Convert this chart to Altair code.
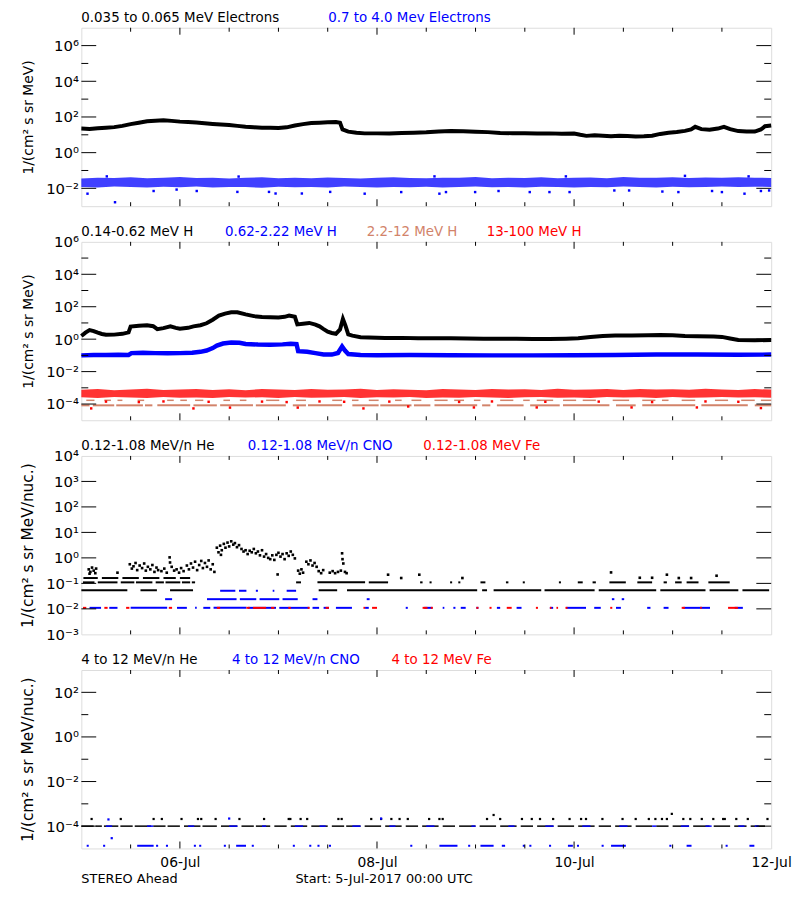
import altair as alt
import pandas as pd

FONT = "DejaVu Sans"
W, H = 696, 180          # plot area of each panel
BLACK, BLUE, RED, SALMON = "#000000", "#0000ff", "#ff0000", "#d2836a"

# time in hours after 5-Jul-2017 00:00 UTC ; values are log10(flux)
# ---------------- Panel 1 : electrons ----------------
E_LOW = [(0,1.35),(2,1.33),(4,1.37),(6,1.40),(8,1.43),(10,1.50),(12,1.60),(14,1.68),(16,1.76),(18,1.79),
         (20,1.81),(22,1.78),(24,1.74),(26,1.72),(28,1.69),(30,1.65),(32,1.61),(34,1.58),(36,1.55),(38,1.50),
         (40,1.45),(42,1.42),(44,1.40),(46,1.39),(48,1.38),(50,1.42),(52,1.52),(54,1.60),(56,1.66),(58,1.68),
         (60,1.70),(62,1.72),(63,1.68),(63.6,1.30),(65,1.18),(67,1.12),(69,1.08),(72,1.08),(75,1.07),(78,1.10),
         (81,1.12),(84,1.14),(87,1.18),(90,1.21),(93,1.20),(96,1.17),(99,1.15),(102,1.10),(105,1.09),(108,1.09),
         (111,1.07),(114,1.08),(117,1.06),(120,1.07),(121.5,1.00),(123,0.94),(125,0.97),(127,0.95),(129,0.92),
         (131,0.95),(133,0.93),(135,0.91),(137,0.92),(139,0.95),(141,1.05),(143,1.12),(145,1.16),(147,1.22),
         (148.5,1.30),(149.5,1.45),(151,1.32),(153,1.28),(155,1.35),(156.5,1.45),(158,1.32),(160,1.21),
         (162,1.18),(164,1.18),(165.5,1.30),(166.5,1.48),(168,1.52)]
BAND_T = [0,4,8,12,16,20,24,28,32,36,40,44,48,52,56,60,64,68,72,76,80,84,88,92,96,100,104,108,112,116,
          120,124,128,132,136,140,144,148,152,156,160,164,168]
E_HIGH_TOP = [-1.45,-1.40,-1.42,-1.38,-1.44,-1.40,-1.36,-1.42,-1.40,-1.45,-1.41,-1.38,-1.43,-1.40,-1.44,
              -1.39,-1.42,-1.45,-1.40,-1.38,-1.42,-1.44,-1.40,-1.41,-1.37,-1.43,-1.40,-1.42,-1.38,-1.44,
              -1.40,-1.39,-1.43,-1.37,-1.41,-1.40,-1.38,-1.42,-1.39,-1.41,-1.38,-1.40,-1.42]
E_HIGH_BOT = [-1.92,-1.95,-1.90,-1.93,-1.96,-1.91,-1.94,-1.90,-1.95,-1.92,-1.93,-1.97,-1.91,-1.94,-1.92,
              -1.95,-1.90,-1.93,-1.96,-1.92,-1.94,-1.91,-1.95,-1.93,-1.90,-1.94,-1.92,-1.96,-1.91,-1.93,
              -1.95,-1.92,-1.94,-1.90,-1.93,-1.95,-1.91,-1.94,-1.92,-1.90,-1.93,-1.91,-1.92]
E_HIGH_OUT = [(1.5,-2.30),(6.2,-1.33),(8.2,-2.78),(17.6,-2.15),(23.2,-2.07),(28.1,-2.15),(38.0,-2.20),
              (38.3,-1.34),(45.7,-2.20),(47.3,-2.29),(53.7,-2.29),(60.6,-2.20),(69.0,-2.30),(77.9,-2.21),
              (86.0,-1.33),(87.2,-2.30),(88.8,-2.21),(95.9,-2.21),(101.6,-2.15),(109.2,-2.21),(114.0,-2.21),
              (118.0,-1.33),(118.9,-2.21),(129.8,-2.12),(133.4,-2.12),(141.5,-2.18),(145.4,-2.21),
              (147.0,-1.30),(153.6,-2.15),(156.0,-2.21),(161.5,-2.30),(162.5,-1.33),(165.5,-2.15),(167.5,-2.12)]

# ---------------- Panel 2 : protons ----------------
H_LOW = [(0,0.19),(1,0.40),(2,0.56),(3,0.50),(4,0.40),(5,0.32),(6,0.27),(8,0.28),(10,0.33),(11.5,0.42),
         (12,0.78),(14,0.83),(16,0.86),(17.5,0.80),(18.5,0.62),(20,0.68),(21.7,0.79),(23,0.70),(24,0.64),
         (26,0.70),(27.3,0.79),(29,0.86),(30.5,0.98),(32,1.20),(33.5,1.45),(35,1.58),(36.5,1.66),(38,1.66),
         (40,1.53),(42,1.42),(44,1.37),(46,1.35),(48,1.34),(49.5,1.38),(50.6,1.46),(52,1.38),(52.6,0.91),
         (54,0.95),(55.5,1.00),(57,0.90),(58,0.79),(59,0.62),(60,0.46),(61,0.38),(62,0.33),(63,0.60),
         (63.7,1.25),(64.3,0.85),(65,0.30),(66,0.22),(68,0.12),(70,0.10),(74,0.07),(78,0.08),(82,0.06),
         (86,0.05),(90,0.05),(94,0.04),(98,0.03),(102,0.02),(106,0.02),(110,0.01),(114,0.01),(118,0.03),
         (121,0.06),(124,0.13),(127,0.20),(130,0.23),(134,0.22),(138,0.24),(141,0.26),(144,0.24),
         (147,0.20),(150,0.18),(154,0.17),(156,0.14),(158,0.04),(160,-0.05),(164,-0.07),(168,-0.05)]
H_MID = [(0,-1.00),(3,-0.97),(6,-0.98),(9,-0.96),(11.5,-0.97),(12.2,-0.86),(15,-0.84),(18,-0.86),(21,-0.87),
         (24,-0.86),(27,-0.84),(29,-0.78),(30.5,-0.70),(32,-0.55),(33,-0.40),(34.5,-0.27),(36.5,-0.21),
         (38.5,-0.22),(40,-0.30),(43,-0.33),(46,-0.34),(49,-0.32),(51,-0.28),(52.4,-0.30),(52.8,-0.74),
         (55,-0.78),(57,-0.86),(59,-0.94),(61,-0.95),(62.5,-0.85),(63.5,-0.45),(64.2,-0.70),(65,-0.92),
         (68,-0.97),(72,-0.99),(80,-0.98),(90,-0.99),(100,-1.00),(110,-1.00),(120,-0.99),(130,-0.97),
         (140,-0.94),(150,-0.94),(160,-0.96),(168,-0.95)]
H_HIGH_TOP = [-3.12,-3.08,-3.15,-3.10,-3.06,-3.14,-3.10,-3.08,-3.13,-3.09,-3.15,-3.07,-3.11,-3.14,-3.08,
              -3.12,-3.10,-3.06,-3.13,-3.09,-3.12,-3.15,-3.08,-3.10,-3.13,-3.07,-3.11,-3.09,-3.14,-3.06,
              -3.12,-3.10,-3.08,-3.13,-3.07,-3.11,-3.09,-3.12,-3.06,-3.10,-3.13,-3.08,-3.11]
H_HIGH_BOT = [-3.58,-3.62,-3.56,-3.60,-3.63,-3.57,-3.61,-3.59,-3.62,-3.56,-3.60,-3.58,-3.63,-3.57,-3.61,
              -3.59,-3.56,-3.62,-3.58,-3.60,-3.57,-3.63,-3.59,-3.61,-3.56,-3.60,-3.62,-3.58,-3.57,-3.61,
              -3.59,-3.63,-3.56,-3.60,-3.58,-3.62,-3.57,-3.61,-3.59,-3.56,-3.60,-3.58,-3.61]
H_HIGH_OUT = [(2.4,-4.27),(27.3,-4.27),(36.2,-4.22),(52.7,-4.22),(68.7,-4.27),(79.6,-4.15),(95.6,-4.21),
              (110.9,-4.21),(134.0,-4.21),(149.9,-4.21),(165.5,-4.25),(6,-3.85),(14,-3.88),(20,-3.84),
              (31,-3.86),(44,-3.85),(50,-3.88),(58,-3.84),(64,-3.86),(75,-3.85),(92,-3.87),(100,-3.84),
              (113,-3.86),(126,-3.85),(139,-3.88),(152,-3.84),(160,-3.86)]
H_MED_LEVELS = [-4.08, -3.77]
H_MED_A = [(0,2),(2.8,8),(8.5,15),(15.5,17.3),(18.5,26.5),(27.3,33),(33.8,41.8),(42.5,49.8),(51.5,54.7),
           (55.2,63.5),(66,72.4),(72.8,80.4),(81,85),(86,96.4),(97.6,99.6),(101.2,107.7),(109.3,116.5),
           (117.3,128.6),(130.2,135),(136.6,149.5),(151,162.3),(164,168)]
H_MED_B = [(1.2,3.2),(5.6,7.2),(8.8,10),(13.7,15.3),(20.9,22.5),(24.1,25.7),(27.7,29.7),(34.6,36.2),
           (38.6,40.2),(45,48.2),(52.3,54.7),(61.1,63.5),(65.9,67.5),(70,72.4),(76.4,78),(80.4,82.8),
           (86,89.2),(90.8,93.2),(95.6,97.2),(102,105.2),(107.6,109.2),(110.9,114.9),(117.3,120.5),
           (122.1,125.3),(129.4,133.4),(136.6,139.8),(141.4,143),(146.2,149.5),(154.3,157.5),(160.7,164),
           (165.5,168)]

# ---------------- Panel 3 : 0.12-1.08 MeV/n heavy ions ----------------
HE_PTS = [(1.8,-0.45),(2.2,-0.55),(2.6,-0.38),(3.0,-0.50),(3.4,-0.60),(2.0,-0.62),(3.6,-0.42),(8.8,-0.58),
          (11.8,-0.25),(12.3,-0.42),(12.7,-0.33),(13.2,-0.20),(13.6,-0.48),(14.2,-0.30),(14.8,-0.40),
          (15.3,-0.22),(15.7,-0.50),(16.2,-0.35),(16.8,-0.45),(17.3,-0.28),(17.8,-0.55),(18.3,-0.38),
          (18.7,-0.48),(19.5,-0.52),(20.2,-0.42),(20.8,-0.58),(21.5,0.02),(21.6,-0.18),(22.0,-0.35),
          (22.6,-0.50),(23.2,-0.45),(23.8,-0.58),(24.3,-0.40),(24.9,-0.52),(25.7,-0.30),(26.2,-0.45),
          (26.7,-0.22),(27.2,-0.38),(27.7,-0.15),(28.2,-0.48),(28.7,-0.28),(29.2,-0.12),(29.6,-0.40),
          (30.1,-0.20),(30.6,-0.35),(31.0,-0.10),(31.5,-0.45),(32.0,-0.25),(32.4,-0.55),(33.0,0.40),
          (33.4,0.22),(33.8,0.48),(34.2,0.30),(34.7,0.55),(35.1,0.40),(35.6,0.60),(36.0,0.45),(36.5,0.65),
          (37.0,0.52),(37.4,0.58),(37.9,0.42),(38.4,0.50),(34.0,0.12),(39.0,0.35),(39.5,0.25),(40.0,0.30),
          (40.5,0.15),(41.0,0.28),(41.5,0.22),(42.0,0.35),(42.5,0.18),(43.0,0.25),(43.5,0.10),(44.0,0.30),
          (44.5,0.05),(45.0,0.15),(45.5,0.00),(46.0,-0.05),(46.5,0.10),(47.0,-0.08),(47.5,0.12),(48.0,0.20),
          (48.5,0.05),(49.0,0.15),(49.5,-0.05),(50.0,0.18),(50.5,0.08),(51.0,0.25),(51.5,0.12),(52.0,-0.02),
          (47.8,-0.65),(52.8,-0.50),(53.2,-0.62),(53.6,-0.45),(54.0,-0.58),(54.8,-0.15),(55.3,-0.25),
          (55.8,-0.10),(56.3,-0.30),(56.8,-0.20),(57.3,-0.35),(57.8,-0.52),(58.4,-0.60),(58.9,-0.48),
          (60.5,-0.58),(61.2,-0.52),(61.8,-0.60),(62.5,-0.55),(63.2,-0.50),(63.5,0.18),(63.6,-0.05),
          (63.8,-0.22),(64.2,-0.55),(64.6,-0.60),(74.7,-0.66),(77.9,-0.79),(82.3,-0.66),(92.8,-0.79),
          (129.0,-0.57),(136.0,-0.78),(139.0,-0.78),(142.6,-0.66),(145.5,-0.79),(148.5,-0.79),(154.7,-0.70)]
HE_LEVELS = [-0.79, -0.96, -1.27]
HE_ROW_A = [(0.5,4),(5,9),(10,14),(15,19),(20,23),(24,26.5)]
HE_ROW_B = [(0.4,3.2),(4,8.8),(9.6,12.9),(13.3,17.3),(18.1,20.1),(20.5,24.1),(24.5,26.5),(26.9,27.7),
            (52.3,53.5),(57.5,69.1),(70,74.7),(82.5,83.1),(84.8,85.3),(89.8,90.3),(91.8,92.3),(97.2,98.4),
            (103.4,104),(107.5,108),(116.3,116.8),(120.9,122.1),(124.5,125.3),(128.6,132.6),(135.4,139),
            (141.8,142.6),(144.6,146.2),(147.4,150.3),(152.7,157.9)]
HE_ROW_C = [(0,11.2),(14.4,18.4),(21.6,27.2),(57.8,62.3),(64.7,96.4),(97.6,98.8),(100.4,112),(112.8,125),
            (126,140),(141,152),(153,160),(161,167.5)]
CNO_LEVELS = [-1.29, -1.62, -1.96]
CNO_ROW_A = [(33.8,37.5),(38.4,40.2),(42.5,43),(46.6,47),(50,52.3)]
CNO_ROW_B = [(20.4,22.1),(30.6,37.8),(38.6,42.6),(43.4,48.2),(49,52.7),(56.3,57.5),(69.5,70.2),
             (129.2,129.8),(131.6,132.2)]
CNO_ROW_C = [(2,4.8),(6.8,8.8),(12,20.9),(23.3,25.7),(27.7,28.1),(29.7,31.4),(32.2,40.2),(40.6,47.4),
             (48.2,55.5),(56.3,57.9),(59,60.3),(62,65.9),(69.1,70),(79,79.5),(83.5,85.5),(88,88.4),
             (90.6,91.1),(92.4,93.6),(96.2,96.7),(101.2,102),(106,107.2),(114.1,114.9),(118.1,122.9),
             (124.9,126.5),(130.2,131.4),(137.8,138.6),(141.8,143),(146.6,153.1),(159.1,161.1)]
FE_ROW = [(0.4,1.2),(5.6,6.4),(10.9,11.7),(21.3,22.1),(33,33.8),(40.2,41),(41.8,45),(46.2,47),(50.4,51),
          (55.1,55.6),(59.5,60.3),(68.7,69.1),(70.8,72),(83.1,84.3),(85.1,85.6),(96.2,96.7),(99.4,99.9),
          (103.6,104.8),(110.7,111.2),(114.1,114.5),(115.7,116.1),(117.9,118.4),(128.8,129.3),(146.2,147),
          (150.7,151.1),(157.5,159.9)]

# ---------------- Panel 4 : 4-12 MeV/n heavy ions ----------------
HE4_LEVEL, HE4_PT_LEVEL = -4.0, -3.68
HE4_ROW = [(0,3),(3.5,5),(5.5,9),(9.5,12.5),(13,17),(17.5,20.5),(21,24),(25,29),(29.5,33),(34,38),(39,42),
           (42.5,46),(47,50),(51,55),(56,60),(61,64),(64.5,68),(69,73),(74,78),(79,82),(83,87),(88,91),(92,96),
           (97,101),(102,106),(107,110),(111,115),(116,120),(121,125),(126,129),(130,134),(135,139),
           (140,143),(144,148),(149,153),(154,158),(159,162),(163,166.5)]
HE4_PTS_T = [2.5,9.6,17.6,19.6,24.4,28.4,29.2,32.7,38.5,44.5,50.5,50.9,53.4,55.0,62.6,63.4,70.6,73.0,75.5,
             77.5,79.5,84.7,87.2,88.0,98.8,102.0,107.3,109.7,111.7,114.9,118.9,121.7,122.9,126.9,131.8,
             135.0,138.2,139.8,141.4,142.6,146.6,148.3,151.1,153.9,156.3,156.7,159.5,162.3,167.1]
HE4_PTS_HI = [(100.4,-3.50),(143.8,-3.45)]
CNO4_ROW = [(6,7.5),(16,17.5),(26,27.5),(36,38),(44,45),(52,54),(58,59.5),(66,68),(75,76.5),(84,86),(95,96),
            (104,105.5),(113,115),(122,124),(131,133),(139,140),(146,148),(152,153.5),(160,161.5),(164,165)]
CNO4_LOW_LEVEL = -4.88
CNO4_LOW = [(1.3,1.8),(5.3,5.8),(13.6,17.6),(18.2,18.7),(20.6,21.1),(27.4,27.9),(28.7,29.2),(34.7,35.2),
            (37.7,40.1),(41.5,42),(51.5,52),(55.5,56),(57.5,58),(60.3,60.8),(80.1,80.6),(87.2,91.6),
            (94.2,94.7),(97.2,100.4),(102.4,103.2),(107.5,108),(109.1,109.6),(113.9,114.4),(118.5,119.7),
            (120.7,121.2),(126.7,127.2),(129,132.6),(143.2,143.7),(147.4,148.6),(156.9,157.4),(162.7,163.9)]
CNO4_PTS = [(6.6,-3.70),(7.4,-4.54),(36.0,-3.66),(73.0,-3.66)]

assert len(BAND_T) == len(E_HIGH_TOP) == len(E_HIGH_BOT) == len(H_HIGH_TOP) == len(H_HIGH_BOT)

# ------------------------------------------------------------------------
XS = alt.Scale(domain=[0, 168], nice=False, zero=False)
SUP = {"-": "\u207b", "0": "\u2070", "1": "\u00b9", "2": "\u00b2", "3": "\u00b3",
       "4": "\u2074", "5": "\u2075", "6": "\u2076", "7": "\u2077"}


def label_expr(exps):
    parts = []
    for e in exps:
        s = "10" + "".join(SUP[c] for c in str(e))
        parts.append(f"round(log(datum.value)/LN10)=={e} ? '{s}'")
    return " : ".join(parts) + " : ''"


def pts_df(pairs):
    return pd.DataFrame({"t": [p[0] for p in pairs], "f": [10.0 ** p[1] for p in pairs]})


def band_df(times, lo, hi):
    return pd.DataFrame({"t": times, "lo": [10.0 ** v for v in lo], "hi": [10.0 ** v for v in hi]})


def seg_df(segs, level):
    return pd.DataFrame({"t0": [s[0] for s in segs], "t1": [s[1] for s in segs],
                         "f": [10.0 ** level] * len(segs)})


def panel(ylo, yhi, labeled, major, minor, ytitle, ytitle_fs, titles, layers, bottom=False):
    ys = alt.Scale(type="log", domain=[10.0 ** ylo, 10.0 ** yhi], nice=False)
    yax = alt.Axis(values=[10.0 ** e for e in labeled], labelExpr=label_expr(labeled), title=ytitle,
                   tickSize=0, domain=False, grid=False, labelPadding=3, labelFontSize=15,
                   labelFont=FONT, titleFont=FONT, titleFontSize=ytitle_fs, titleFontWeight="normal",
                   titlePadding=10, labelColor="black", titleColor="black", labelFlush=False,
                   labelOverlap=False)
    if bottom:
        xax = alt.Axis(values=[24, 72, 120, 168],
                       labelExpr="datum.value==24?'06-Jul':datum.value==72?'08-Jul':datum.value==120?'10-Jul':'12-Jul'",
                       tickSize=0, domain=False, grid=False, labelPadding=7, labelFontSize=14,
                       labelFont=FONT, labelColor="black", labelFlush=False, labelOverlap=False, title=None)
    else:
        xax = None
    X = alt.X("t:Q", scale=XS, axis=xax)
    Y = alt.Y("f:Q", scale=ys, axis=yax)
    out = []
    for kind, df, color, size in layers:
        base = alt.Chart(df)
        if kind == "line":
            out.append(base.mark_line(color=color, strokeWidth=size).encode(x=X, y=Y))
        elif kind == "area":
            out.append(base.mark_area(color=color, opacity=size).encode(
                x=X, y=alt.Y("lo:Q", scale=ys, axis=yax), y2="hi:Q"))
        elif kind == "sq":
            out.append(base.mark_square(color=color, size=size, opacity=1).encode(x=X, y=Y))
        elif kind == "seg":
            out.append(base.mark_rule(color=color, strokeWidth=size).encode(
                x=alt.X("t0:Q", scale=XS, axis=xax), x2="t1:Q", y=Y))
    # inward ticks on all four sides
    for exps, ln in ((major, 15), (minor, 7)):
        if exps:
            tdf = pd.DataFrame({"f": [10.0 ** e for e in exps]})
            out.append(alt.Chart(tdf).mark_rule(color="black", strokeWidth=1).encode(
                y=Y, x=alt.value(0), x2=alt.value(ln)))
            out.append(alt.Chart(tdf).mark_rule(color="black", strokeWidth=1).encode(
                y=Y, x=alt.value(W - ln), x2=alt.value(W)))
    for tv, ln in (([24, 72, 120], 7), ([12, 36, 48, 60, 84, 96, 108, 132, 144, 156], 4)):
        tdf = pd.DataFrame({"t": tv})
        out.append(alt.Chart(tdf).mark_rule(color="black", strokeWidth=1).encode(
            x=X, y=alt.value(H), y2=alt.value(H - ln)))
        out.append(alt.Chart(tdf).mark_rule(color="black", strokeWidth=1).encode(
            x=X, y=alt.value(0), y2=alt.value(ln)))
    # coloured titles above the panel
    for text, color, off in titles:
        out.append(alt.Chart(pd.DataFrame({"s": [text]})).mark_text(
            align="left", baseline="alphabetic", font=FONT, fontSize=13.5, color=color).encode(
            text="s:N", x=alt.value(off), y=alt.value(-6)))
    if bottom:
        for text, off in (("STEREO Ahead", 0), ("Start:  5-Jul-2017 00:00 UTC", 216)):
            out.append(alt.Chart(pd.DataFrame({"s": [text]})).mark_text(
                align="left", baseline="alphabetic", font=FONT, fontSize=13, color="black").encode(
                text="s:N", x=alt.value(off), y=alt.value(H + 35)))
    return alt.layer(*out).properties(width=W, height=H)


p1 = panel(-3, 7, [-2, 0, 2, 4, 6], [-2, 0, 2, 4, 6], [-1, 1, 3, 5], "1/(cm\u00b2 s sr MeV)", 14,
           [("0.035 to 0.065 MeV Electrons", BLACK, 0), ("0.7 to 4.0 Mev Electrons", BLUE, 249)],
           [("area", band_df(BAND_T, E_HIGH_BOT, E_HIGH_TOP), BLUE, 0.75),
            ("sq", pts_df(E_HIGH_OUT), BLUE, 6),
            ("line", pts_df(E_LOW), BLACK, 4)])

p2 = panel(-5, 6, [-4, -2, 0, 2, 4, 6], [-4, -2, 0, 2, 4], [-3, -1, 1, 3, 5], "1/(cm\u00b2 s sr MeV)", 14,
           [("0.14-0.62 MeV H", BLACK, 0), ("0.62-2.22 MeV H", BLUE, 145),
            ("2.2-12 MeV H", SALMON, 288), ("13-100 MeV H", RED, 409)],
           [("seg", seg_df(H_MED_A, H_MED_LEVELS[0]), SALMON, 2),
            ("seg", seg_df(H_MED_B, H_MED_LEVELS[1]), SALMON, 1.5),
            ("area", band_df(BAND_T, H_HIGH_BOT, H_HIGH_TOP), RED, 0.8),
            ("sq", pts_df(H_HIGH_OUT), RED, 6),
            ("line", pts_df(H_MID), BLUE, 4.5),
            ("line", pts_df(H_LOW), BLACK, 4)])

p3 = panel(-3, 4, [-3, -2, -1, 0, 1, 2, 3, 4], [-2, -1, 0, 1, 2, 3], [], "1/(cm\u00b2 s sr MeV/nuc.)", 15.5,
           [("0.12-1.08 MeV/n He", BLACK, 0), ("0.12-1.08 MeV/n CNO", BLUE, 168),
            ("0.12-1.08 MeV Fe", RED, 345)],
           [("seg", seg_df(HE_ROW_A, HE_LEVELS[0]), BLACK, 2),
            ("seg", seg_df(HE_ROW_B, HE_LEVELS[1]), BLACK, 2),
            ("seg", seg_df(HE_ROW_C, HE_LEVELS[2]), BLACK, 2),
            ("seg", seg_df(CNO_ROW_A, CNO_LEVELS[0]), BLUE, 2),
            ("seg", seg_df(CNO_ROW_B, CNO_LEVELS[1]), BLUE, 2),
            ("seg", seg_df(CNO_ROW_C, CNO_LEVELS[2]), BLUE, 2),
            ("seg", seg_df(FE_ROW, CNO_LEVELS[2]), RED, 2),
            ("sq", pts_df(HE_PTS), BLACK, 7)])

p4 = panel(-5, 3, [-4, -2, 0, 2], [-4, -2, 0, 2], [-3, -1, 1], "1/(cm\u00b2 s sr MeV/nuc.)", 15.5,
           [("4 to 12 MeV/n He", BLACK, 0), ("4 to 12 MeV/n CNO", BLUE, 152), ("4 to 12 MeV Fe", RED, 313)],
           [("seg", seg_df(HE4_ROW, HE4_LEVEL), BLACK, 1.5),
            ("seg", seg_df(CNO4_ROW, HE4_LEVEL), BLUE, 1.5),
            ("seg", seg_df(CNO4_LOW, CNO4_LOW_LEVEL), BLUE, 2),
            ("sq", pts_df([(t, HE4_PT_LEVEL) for t in HE4_PTS_T] + HE4_PTS_HI), BLACK, 5),
            ("sq", pts_df(CNO4_PTS), BLUE, 5)],
           bottom=True)

chart = alt.vconcat(p1, p2, p3, p4, spacing=36, bounds="flush").configure_view(
    stroke="black", strokeWidth=1).configure(font=FONT).properties(
    background="white", padding={"left": 12, "top": -2, "right": 0, "bottom": 0})

chart.save("out.html", embed_options={"renderer": "svg", "actions": False})
